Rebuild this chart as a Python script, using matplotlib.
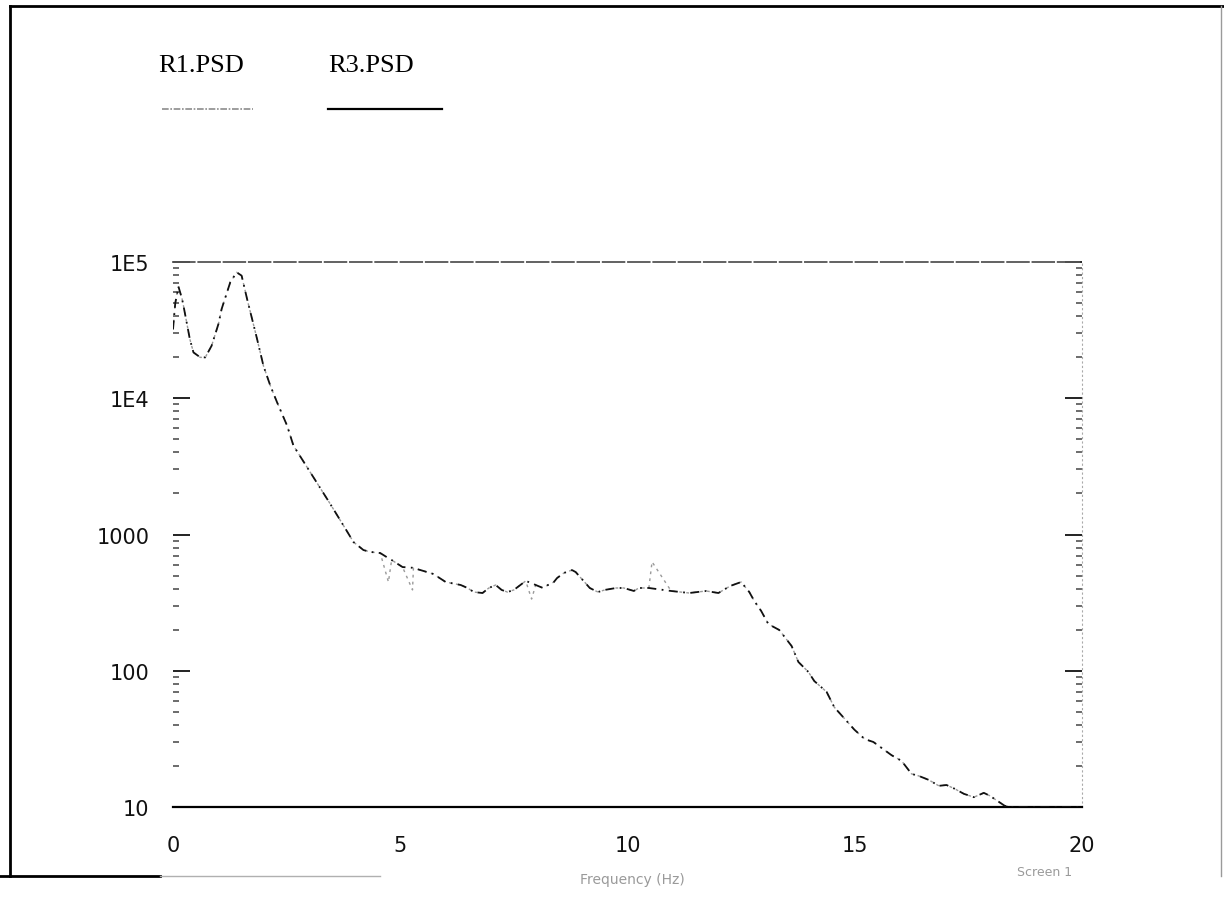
import matplotlib
matplotlib.use('Agg')
import matplotlib.pyplot as plt
from matplotlib.lines import Line2D

# ---------------- data ----------------
freq = [0.0, 0.05, 0.12, 0.2, 0.23, 0.30, 0.37, 0.45, 0.60, 0.71, 0.85, 1.0, 1.07,
        1.26, 1.40, 1.51, 1.63, 1.74, 1.85, 1.99, 2.14, 2.29, 2.51, 2.65, 3.42,
        3.57, 3.84, 3.97, 4.19, 4.34, 4.56, 4.74, 4.81, 5.05, 5.27, 5.29, 5.51,
        5.73, 6.0, 6.33, 6.48, 6.62, 6.81, 6.95, 7.10, 7.23, 7.36, 7.50, 7.76,
        7.89, 7.98, 8.14, 8.25, 8.38, 8.45, 8.60, 8.78, 8.86, 9.17, 9.35, 9.50,
        9.75, 9.92, 10.14, 10.25, 10.47, 10.54, 10.96, 11.36, 11.73, 12.0, 12.26,
        12.50, 12.68, 12.79, 12.94, 13.10, 13.34, 13.61, 13.76, 13.98, 14.11,
        14.38, 14.55, 14.99, 15.22, 15.41, 15.81, 16.03, 16.25, 16.41, 16.63,
        16.85, 17.02, 17.20, 17.40, 17.62, 17.84, 17.97, 18.30, 18.46, 19.0, 20.0]

r3_psd = [32000, 50000, 66000, 53500, 47800, 36100, 27200, 21700, 19950, 19950,
          24300, 35100, 45200, 71000, 84000, 79400, 53500, 38200, 27200, 17300,
          12400, 9330, 6300, 4490, 1760, 1460, 1040, 881, 769, 745, 731, 670, 650,
          577, 570, 568, 540, 513, 448, 426, 405, 378, 372, 405, 426, 392, 378,
          392, 456, 440, 426, 405, 426, 448, 479, 522, 548, 530, 405, 378, 392,
          405, 405, 385, 405, 405, 402, 385, 372, 385, 372, 419, 448, 378, 325,
          275, 220, 199, 152, 116, 98, 84, 70, 54, 37, 31.5, 30, 24, 21.8, 17.5,
          16.9, 15.8, 14.3, 14.5, 13.6, 12.5, 11.8, 12.7, 12.1, 10.2, 10.0, 10.0,
          10.0]

r1_psd = [32000, 50000, 66000, 53500, 47800, 36100, 27200, 21700, 19950, 19950,
          24300, 35100, 45200, 71000, 84000, 79400, 53500, 38200, 27200, 17300,
          12400, 9330, 6300, 4490, 1760, 1460, 1040, 881, 769, 745, 731, 448, 650,
          577, 392, 568, 540, 513, 448, 426, 405, 378, 372, 405, 426, 392, 378,
          392, 456, 336, 426, 405, 426, 448, 479, 522, 548, 530, 405, 378, 392,
          405, 405, 385, 405, 405, 630, 385, 372, 385, 372, 419, 448, 378, 325,
          275, 220, 199, 152, 116, 98, 84, 70, 54, 37, 31.5, 30, 24, 21.8, 17.5,
          16.9, 15.8, 14.3, 14.5, 13.6, 12.5, 11.8, 12.7, 12.1, 10.2, 10.0, 10.0,
          10.0]

series_names = ['R1.PSD', 'R3.PSD']
x_ticks = [0, 5, 10, 15, 20]
x_tick_labels = ['0', '5', '10', '15', '20']
y_ticks = [10, 100, 1000, 1e4, 1e5]
y_tick_labels = ['10', '100', '1000', '1E4', '1E5']
x_label = 'Frequency (Hz)'
corner_note = 'Screen 1'

# ---------------- figure ----------------
W, H = 1224, 904
fig = plt.figure(figsize=(W / 100, H / 100), dpi=100)
fig.patch.set_facecolor('white')


def fx(px):
    return px / W


def fy(py):
    return 1 - py / H


ax = fig.add_axes([fx(173), fy(808), (1082 - 173) / W, (808 - 263) / H])
ax.set_yscale('log')
ax.set_xlim(0, 20)
ax.set_ylim(10, 1e5)

ax.plot(freq, r1_psd, color='#9a9a9a', lw=1.0, ls=(0, (2, 3)), zorder=2)
ax.plot(freq, r3_psd, color='#111111', lw=1.3, ls=(0, (5, 3, 1, 3)), zorder=3)

# spines
ax.spines['left'].set_visible(False)
ax.spines['bottom'].set_color('black')
ax.spines['bottom'].set_linewidth(1.6)
ax.spines['top'].set_color('#555555')
ax.spines['top'].set_linewidth(1.3)
ax.spines['top'].set_linestyle((0, (12, 2)))
ax.spines['right'].set_color('#aaaaaa')
ax.spines['right'].set_linewidth(0.8)
ax.spines['right'].set_linestyle((0, (1, 3)))

# ticks
ax.set_xticks(x_ticks, labels=x_tick_labels)
ax.set_yticks(y_ticks, labels=y_tick_labels)
ax.tick_params(axis='x', length=0, pad=20, labelsize=15, labelcolor='#111111')
ax.tick_params(axis='y', which='major', direction='in', length=12, width=1.4,
               left=True, right=True, pad=17, labelsize=15, labelcolor='#111111',
               color='#222222')
ax.tick_params(axis='y', which='minor', direction='in', length=4, width=1.1,
               left=True, right=True, labelleft=False, color='#444444')
ax.yaxis.set_minor_formatter(matplotlib.ticker.NullFormatter())

# legend (text above short line samples)
fig.text(fx(158), fy(72), series_names[0], family='Liberation Serif',
         fontsize=19, color='black', ha='left', va='baseline')
fig.text(fx(328), fy(72), series_names[1], family='Liberation Serif',
         fontsize=19, color='black', ha='left', va='baseline')
fig.add_artist(Line2D([fx(162), fx(253)], [fy(110), fy(110)], color='#8c8c8c',
                      lw=1.2, ls=(0, (4, 1, 1, 1))))
fig.add_artist(Line2D([fx(328), fx(442)], [fy(110), fy(110)], color='black',
                      lw=1.6))

# faint axis caption and screen note
fig.text(fx(632), fy(880), x_label, fontsize=10, color='#9a9a9a',
         ha='center', va='center')
fig.text(fx(1045), fy(873), corner_note, fontsize=9, color='#9a9a9a',
         ha='center', va='center')

# outer page frame
fig.add_artist(Line2D([fx(10), fx(10)], [fy(7), fy(877)], color='black', lw=2))
fig.add_artist(Line2D([fx(10), fx(1224)], [fy(7), fy(7)], color='black', lw=2))
fig.add_artist(Line2D([fx(1221), fx(1221)], [fy(7), fy(877)], color='#9a9a9a', lw=1))
fig.add_artist(Line2D([fx(0), fx(160)], [fy(877), fy(877)], color='black', lw=2))
fig.add_artist(Line2D([fx(160), fx(380)], [fy(877), fy(877)], color='#b0b0b0', lw=1))

fig.savefig('out.png', dpi=100, facecolor='white')
